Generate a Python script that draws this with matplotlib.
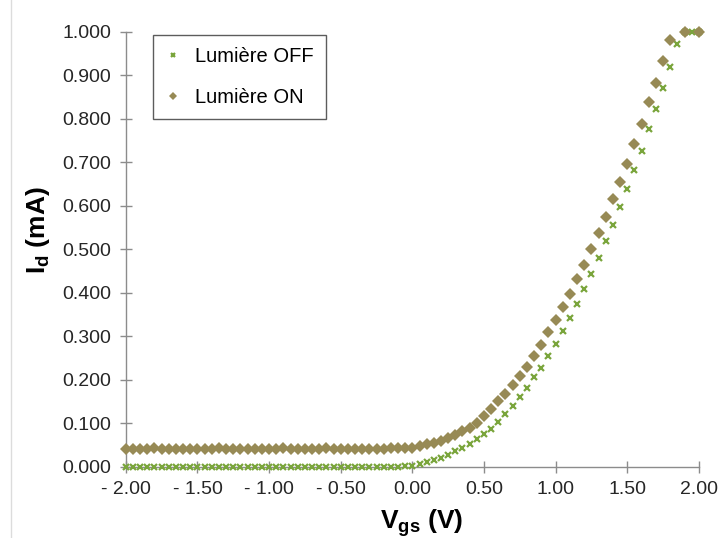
import numpy as np
import matplotlib
matplotlib.use("Agg")
import matplotlib.pyplot as plt
from matplotlib.lines import Line2D

plt.rcParams['font.family'] = ['Liberation Sans', 'DejaVu Sans']
plt.rcParams['mathtext.fontset'] = 'custom'
plt.rcParams['mathtext.rm'] = 'Liberation Sans'
plt.rcParams['mathtext.bf'] = 'Liberation Sans:bold'

# Vgs sweep (V), 0.05 V steps
vgs = np.round(np.linspace(-2.0, 2.0, 81), 2)

# Id (mA), light off
id_off_neg = [0.000, 0.000, 0.000, 0.000, 0.000, 0.000, 0.000, 0.000, 0.000, 0.000,
              0.000, 0.000, 0.000, 0.000, 0.000, 0.000, 0.000, 0.000, 0.000, 0.000,
              0.000, 0.000, 0.000, 0.000, 0.000, 0.000, 0.000, 0.000, 0.000, 0.000,
              0.000, 0.000, 0.000, 0.000, 0.000, 0.000, 0.000, 0.000, 0.000, 0.001]
id_off_pos = [0.002, 0.006, 0.010, 0.015, 0.020, 0.027, 0.035, 0.044, 0.053, 0.063,
              0.074, 0.087, 0.103, 0.120, 0.140, 0.160, 0.182, 0.206, 0.228, 0.254,
              0.283, 0.313, 0.343, 0.375, 0.408, 0.443, 0.479, 0.519, 0.555, 0.597,
              0.638, 0.683, 0.726, 0.776, 0.822, 0.871, 0.920, 0.973, 1.000, 1.000,
              1.000]

# Id (mA), light on
id_on_neg = [0.040, 0.040, 0.041, 0.041, 0.042, 0.041, 0.040, 0.041, 0.041, 0.040,
             0.040, 0.041, 0.041, 0.042, 0.041, 0.040, 0.040, 0.041, 0.041, 0.040,
             0.040, 0.041, 0.042, 0.041, 0.040, 0.040, 0.041, 0.041, 0.042, 0.041,
             0.040, 0.040, 0.041, 0.040, 0.040, 0.041, 0.041, 0.042, 0.042, 0.043]
id_on_pos = [0.044, 0.047, 0.051, 0.055, 0.060, 0.066, 0.073, 0.081, 0.090, 0.101,
             0.116, 0.132, 0.150, 0.168, 0.188, 0.208, 0.230, 0.254, 0.280, 0.309,
             0.337, 0.367, 0.397, 0.431, 0.464, 0.500, 0.538, 0.575, 0.615, 0.654,
             0.697, 0.743, 0.789, 0.838, 0.883, 0.933, 0.981, np.nan, 1.000, np.nan,
             1.000]

id_off = np.array(id_off_neg + id_off_pos)
id_on = np.array(id_on_neg + id_on_pos)

x_ticks = [-2.0, -1.5, -1.0, -0.5, 0.0, 0.5, 1.0, 1.5, 2.0]
y_ticks = [0.0, 0.1, 0.2, 0.3, 0.4, 0.5, 0.6, 0.7, 0.8, 0.9, 1.0]

c_off = '#7aa53c'
c_on = '#978a55'
c_axis = '#8c8c8c'

fig = plt.figure(figsize=(7.19, 5.38), dpi=100)
ax = fig.add_axes([0.175, 0.1326, 0.797, 0.808])

ax.plot(vgs, id_off, ls='none', marker='x', ms=4.8, mew=1.6, color=c_off,
        label='Lumière OFF', clip_on=False, zorder=3)
ax.plot(vgs, id_on, ls='none', marker='D', ms=6, mew=0, color=c_on,
        label='Lumière ON', clip_on=False, zorder=4)

ax.set_xlim(-2.0, 2.0)
ax.set_ylim(0.0, 1.0)
ax.set_xticks(x_ticks)
ax.set_xticklabels([('- %.2f' % abs(v)) if v < 0 else '%.2f' % v for v in x_ticks])
ax.set_yticks(y_ticks)
ax.set_yticklabels(['%.3f' % v for v in y_ticks])

for s in ['top', 'right']:
    ax.spines[s].set_visible(False)
for s in ['left', 'bottom']:
    ax.spines[s].set_color(c_axis)
    ax.spines[s].set_linewidth(1.0)
ax.tick_params(direction='inout', length=9, width=1.0, color=c_axis,
               labelsize=14, labelcolor='#262626')
ax.tick_params(axis='y', pad=6)
ax.tick_params(axis='x', pad=6)

ax.set_xlabel(r'$\mathbf{V_{gs}}$ (V)', fontsize=19, fontweight='bold')
ax.set_ylabel(r'$\mathbf{I_d}$ (mA)', fontsize=19, fontweight='bold')
ax.xaxis.set_label_coords(0.517, -0.13, transform=ax.transAxes)
ax.yaxis.set_label_coords(-0.153, 0.545, transform=ax.transAxes)
ax.xaxis.label.set_verticalalignment('center')
ax.yaxis.label.set_verticalalignment('center')

leg = ax.legend(loc='upper left', bbox_to_anchor=(0.047, 0.993), fontsize=14.5,
                frameon=True, fancybox=False, edgecolor='#333333',
                borderpad=0.6, labelspacing=1.1, handlelength=0.8,
                handletextpad=0.7, markerscale=0.7, borderaxespad=0)
leg.get_frame().set_linewidth(1.0)

fig.add_artist(Line2D([11 / 719, 11 / 719], [0, 1], color='#dcdcdc', lw=1))

fig.savefig('out.png', dpi=100)
